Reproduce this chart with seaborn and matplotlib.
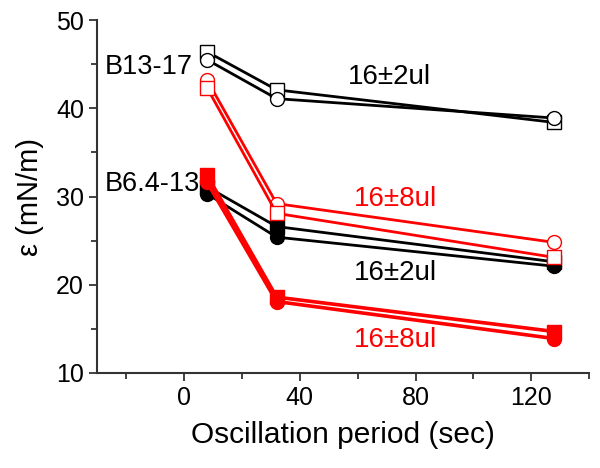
import matplotlib
matplotlib.use("Agg")
import matplotlib.pyplot as plt
import seaborn as sns
import pandas as pd
from matplotlib.ticker import MultipleLocator

sns.set_style("ticks")
plt.rcParams['font.family'] = ['Liberation Sans', 'DejaVu Sans']
plt.rcParams['text.color'] = 'black'
plt.rcParams['axes.labelcolor'] = 'black'

periods = [8, 32, 128]
b13_2ul_sq = [46.4, 42.1, 38.4]
b13_2ul_ci = [45.5, 41.1, 38.9]
b13_8ul_ci = [43.2, 29.2, 24.8]
b13_8ul_sq = [42.3, 28.1, 23.1]
b6_2ul_sq = [31.1, 26.6, 22.6]
b6_2ul_ci = [30.3, 25.4, 22.1]
b6_8ul_sq = [32.4, 18.6, 14.7]
b6_8ul_ci = [31.6, 18.1, 13.9]

series = [
    ("b13_2ul_sq", b13_2ul_sq, "black", "s", False, 2.0),
    ("b13_2ul_ci", b13_2ul_ci, "black", "o", False, 2.0),
    ("b6_2ul_sq", b6_2ul_sq, "black", "s", True, 2.0),
    ("b6_2ul_ci", b6_2ul_ci, "black", "o", True, 2.0),
    ("b13_8ul_ci", b13_8ul_ci, "#ff0000", "o", False, 2.0),
    ("b13_8ul_sq", b13_8ul_sq, "#ff0000", "s", False, 2.0),
    ("b6_8ul_sq", b6_8ul_sq, "#ff0000", "s", True, 2.6),
    ("b6_8ul_ci", b6_8ul_ci, "#ff0000", "o", True, 2.6),
]

fig = plt.figure(figsize=(6, 4.68), dpi=100)
ax = fig.add_axes([0.162, 0.203, 0.82, 0.754])

for name, vals, col, mk, filled, lw in series:
    df = pd.DataFrame({"period": periods, "eps": vals})
    sns.lineplot(data=df, x="period", y="eps", ax=ax, color=col, lw=lw,
                 marker=mk, markersize=10 if mk == "o" else 9.5,
                 markerfacecolor=col if filled else "white",
                 markeredgecolor=col, markeredgewidth=1.0)

ax.set_xlim(-30, 140)
ax.set_ylim(10, 50)
ax.xaxis.set_major_locator(MultipleLocator(40))
ax.xaxis.set_minor_locator(MultipleLocator(20))
ax.yaxis.set_major_locator(MultipleLocator(10))
ax.yaxis.set_minor_locator(MultipleLocator(5))
ax.tick_params(which="major", direction="out", length=6, width=1.3, labelsize=18, colors="#333333", labelcolor="black")
ax.tick_params(which="minor", direction="out", length=4, width=1.3, colors="#333333")
for s in ["left", "bottom"]:
    ax.spines[s].set_linewidth(1.5)
    ax.spines[s].set_color("#333333")
sns.despine(ax=ax)

ax.set_xlabel("Oscillation period (sec)", fontsize=21.5, labelpad=8)
ax.set_ylabel("ε (mN/m)", fontsize=21, labelpad=9)

ax.text(-27.5, 44.7, "B13-17", fontsize=19.5, ha="left", va="center")
ax.text(-27.5, 31.4, "B6.4-13", fontsize=19.5, ha="left", va="center")
ax.text(85.5, 43.6, "16±2ul", fontsize=20, ha="right", va="center", color="black")
ax.text(87.5, 29.7, "16±8ul", fontsize=20, ha="right", va="center", color="#ff0000")
ax.text(87.5, 21.3, "16±2ul", fontsize=20, ha="right", va="center", color="black")
ax.text(87.5, 13.7, "16±8ul", fontsize=20, ha="right", va="center", color="#ff0000")

fig.savefig("out.png", dpi=100)
